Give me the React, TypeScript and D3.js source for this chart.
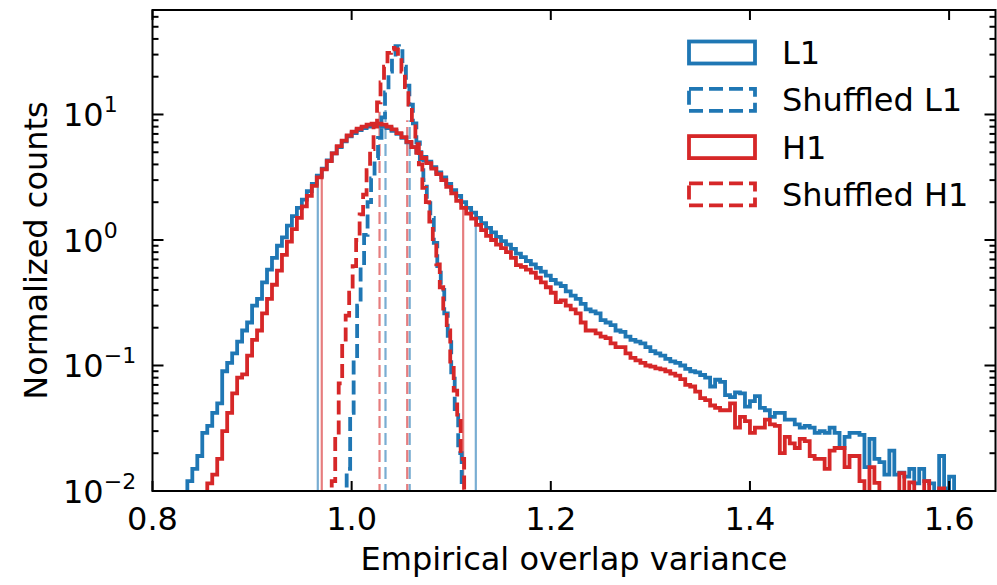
import React from "react";
import * as d3 from "d3";

const W = 997;
const H = 585;
const PL = 152.5;
const PR = 995.5;
const PT = 10;
const PB = 491;

const xDomain = [0.8, 1.6466];
const yDomain = [0.01, 68];

const xTicks = [0.8, 1.0, 1.2, 1.4, 1.6];
const xTickLabels = ["0.8", "1.0", "1.2", "1.4", "1.6"];
const yTickValues = [0.01, 0.1, 1, 10];
const yTickExponents = ["\u22122", "\u22121", "0", "1"];

const xLabel = "Empirical overlap variance";
const yLabel = "Normalized counts";

const seriesNames = ["L1", "Shuffled L1", "H1", "Shuffled H1"];
const seriesColors = ["#1f77b4", "#1f77b4", "#d62728", "#d62728"];
const seriesDashed = [false, true, false, true];

// L1 histogram: bins start 0.835, width 0.005
const l1Start = 0.835;
const l1Width = 0.005;
const l1Counts = [
  0.012, 0.015, 0.019, 0.029, 0.033, 0.042, 0.050, 0.090, 0.105, 0.125,
  0.155, 0.19, 0.22, 0.30, 0.34, 0.46, 0.58, 0.72, 0.90, 1.05,
  1.30, 1.55, 1.80, 2.10, 2.45, 2.80, 3.25, 3.70, 4.30, 4.90,
  5.50, 6.10, 6.70, 7.10, 7.50, 7.80, 8.00, 8.10, 8.10, 8.00,
  7.80, 7.40, 7.00, 6.50, 6.00, 5.50, 5.00, 4.60, 4.20, 3.80,
  3.45, 3.15, 2.80, 2.50, 2.25, 2.00, 1.80, 1.65, 1.50, 1.36,
  1.25, 1.15, 1.06, 0.98, 0.92, 0.85, 0.78, 0.73, 0.68, 0.64,
  0.60, 0.56, 0.52, 0.48, 0.45, 0.43, 0.39, 0.36, 0.34, 0.31,
  0.28, 0.27, 0.26, 0.23, 0.22, 0.21, 0.19, 0.185, 0.17, 0.16,
  0.155, 0.15, 0.14, 0.13, 0.125, 0.12, 0.113, 0.108, 0.105, 0.100,
  0.094, 0.090, 0.088, 0.084, 0.080, 0.068, 0.077, 0.074, 0.058, 0.056,
  0.061, 0.060, 0.047, 0.052, 0.057, 0.046, 0.044, 0.039, 0.042, 0.042,
  0.037, 0.037, 0.034, 0.032, 0.033, 0.032, 0.029, 0.030, 0.029, 0.032,
  0.029, 0.022, 0.027, 0.029, 0.029, 0.028, 0.0155, 0.026, 0.018, 0.017,
  0.0135, 0.021, 0.0135, 0.014, 0.013, 0.015, 0.0115, 0.015, 0.012, 0.0115,
  0.0095, 0.019, 0.0105, 0.013,
];

// Shuffled L1: bins start 0.995, width 0.0035
const sL1Start = 0.995;
const sL1Width = 0.0035;
const sL1Counts = [
  0.015, 0.042, 0.11, 0.30, 0.62, 1.1, 2.0, 3.1, 4.5, 6.5, 9.5, 15.0, 22.0,
  30.0, 35.0, 32.0, 24.0, 17.0, 12.0, 8.5, 6.0, 4.4, 3.0, 2.1, 1.5, 0.95,
  0.62, 0.40, 0.26, 0.16, 0.085, 0.045, 0.020,
];

// H1 histogram: bins start 0.855, width 0.005
const h1Start = 0.855;
const h1Width = 0.005;
const h1Counts = [
  0.0115, 0.0135, 0.018, 0.030, 0.042, 0.060, 0.080, 0.085, 0.120, 0.160,
  0.190, 0.26, 0.34, 0.44, 0.57, 0.76, 0.97, 1.22, 1.50, 1.85,
  2.25, 2.70, 3.15, 3.65, 4.25, 4.90, 5.60, 6.20, 6.80, 7.30,
  7.70, 8.00, 8.30, 8.45, 8.45, 8.30, 8.00, 7.60, 7.10, 6.60,
  6.05, 5.50, 4.95, 4.50, 4.10, 3.70, 3.35, 3.00, 2.65, 2.35,
  2.05, 1.80, 1.62, 1.48, 1.32, 1.20, 1.08, 1.00, 0.92, 0.86,
  0.80, 0.72, 0.63, 0.61, 0.58, 0.55, 0.50, 0.46, 0.42, 0.38,
  0.32, 0.33, 0.30, 0.28, 0.26, 0.22, 0.19, 0.19, 0.18, 0.17,
  0.165, 0.15, 0.14, 0.14, 0.125, 0.115, 0.11, 0.105, 0.10, 0.098,
  0.095, 0.093, 0.090, 0.086, 0.083, 0.078, 0.070, 0.068, 0.062, 0.055,
  0.053, 0.048, 0.046, 0.044, 0.044, 0.050, 0.032, 0.039, 0.036, 0.029,
  0.032, 0.032, 0.037, 0.034, 0.033, 0.020, 0.027, 0.024, 0.022, 0.026,
  0.025, 0.019, 0.018, 0.018, 0.015, 0.021, 0.022, 0.022, 0.0155, 0.019,
  0.019, 0.012, 0.009, 0.0155, 0.0116, 0.008, 0.008, 0.009, 0.0095, 0.0139,
  0.008, 0.0117, 0.008, 0.009, 0.012, 0.008, 0.009, 0.0105, 0.008,
];

// Shuffled H1: bins start 0.980, width 0.0035
const sH1Start = 0.98;
const sH1Width = 0.0035;
const sH1Counts = [
  0.012, 0.027, 0.072, 0.15, 0.25, 0.38, 0.62, 1.0, 1.6, 2.3, 3.6, 5.3, 8.0,
  12.5, 18.0, 24.0, 31.0, 34.0, 33.0, 29.0, 22.0, 16.5, 12.0, 8.5, 5.8, 4.0,
  2.6, 2.0, 1.4, 0.95, 0.64, 0.42, 0.27, 0.19, 0.10, 0.063, 0.038, 0.018,
];

// Percentile marker lines (x position, top value)
const l1MarkX = [0.966, 1.1247];
const l1MarkTop = [3.0, 1.53];
const sL1MarkX = [1.034, 1.0583];
const sL1MarkTop = [11, 9];
const h1MarkX = [0.970, 1.112];
const h1MarkTop = [3.4, 1.84];
const sH1MarkX = [1.028, 1.0558];
const sH1MarkTop = [10.5, 9];

const FONT = "DejaVu Sans, Verdana, sans-serif";

function stepPoints(start: number, width: number, counts: number[]) {
  const pts: [number, number][] = [[start, 1e-5]];
  counts.forEach((c, i) => {
    pts.push([start + i * width, c]);
    pts.push([start + (i + 1) * width, c]);
  });
  pts.push([start + counts.length * width, 1e-5]);
  return pts;
}

export default function App() {
  const x = d3.scaleLinear().domain(xDomain).range([PL, PR]);
  const y = d3.scaleLog().domain(yDomain).range([PB, PT]);
  const line = d3
    .line<[number, number]>()
    .x((d) => x(d[0]))
    .y((d) => y(d[1]));

  const hists = [
    { pts: stepPoints(l1Start, l1Width, l1Counts), i: 0 },
    { pts: stepPoints(sL1Start, sL1Width, sL1Counts), i: 1 },
    { pts: stepPoints(h1Start, h1Width, h1Counts), i: 2 },
    { pts: stepPoints(sH1Start, sH1Width, sH1Counts), i: 3 },
  ];
  const marks = [
    { xs: l1MarkX, tops: l1MarkTop, i: 0 },
    { xs: sL1MarkX, tops: sL1MarkTop, i: 1 },
    { xs: h1MarkX, tops: h1MarkTop, i: 2 },
    { xs: sH1MarkX, tops: sH1MarkTop, i: 3 },
  ];

  const minorY: number[] = [];
  for (let e = -2; e <= 1; e++) {
    for (let m = 2; m <= 9; m++) {
      const v = m * Math.pow(10, e);
      if (v > yDomain[0] && v < yDomain[1]) minorY.push(v);
    }
  }

  const dash = "14,6";
  const lw = 3.8;

  return (
    <div style={{ position: "fixed", left: 0, top: 0 }}>
      <svg width={W} height={H} style={{ display: "block", background: "#fff" }}>
        <defs>
          <clipPath id="plotclip">
            <rect x={PL} y={PT} width={PR - PL} height={PB - PT} />
          </clipPath>
        </defs>
        <g clipPath="url(#plotclip)">
          {marks.map((m) =>
            m.xs.map((xv, k) => (
              <line
                key={`m${m.i}-${k}`}
                x1={x(xv)}
                x2={x(xv)}
                y1={PB + 5}
                y2={y(m.tops[k])}
                stroke={seriesColors[m.i]}
                strokeOpacity={0.6}
                strokeWidth={2.2}
                strokeDasharray={seriesDashed[m.i] ? "12,5" : undefined}
              />
            ))
          )}
          {hists.map((h) => (
            <path
              key={`h${h.i}`}
              d={line(h.pts) || ""}
              fill="none"
              stroke={seriesColors[h.i]}
              strokeWidth={lw}
              strokeLinejoin="miter"
              strokeDasharray={seriesDashed[h.i] ? dash : undefined}
            />
          ))}
        </g>

        {/* ticks */}
        <g stroke="#000" strokeWidth={2}>
          {xTicks.map((t) => (
            <g key={`xt${t}`}>
              <line x1={x(t)} x2={x(t)} y1={PB} y2={PB - 10} />
              <line x1={x(t)} x2={x(t)} y1={PT} y2={PT + 10} />
            </g>
          ))}
          {yTickValues.map((t) => (
            <g key={`yt${t}`}>
              <line x1={PL} x2={PL + 11} y1={y(t)} y2={y(t)} />
              <line x1={PR} x2={PR - 11} y1={y(t)} y2={y(t)} />
            </g>
          ))}
          {minorY.map((t) => (
            <g key={`ym${t}`}>
              <line x1={PL} x2={PL + 6} y1={y(t)} y2={y(t)} />
              <line x1={PR} x2={PR - 6} y1={y(t)} y2={y(t)} />
            </g>
          ))}
        </g>
        <rect
          x={PL}
          y={PT}
          width={PR - PL}
          height={PB - PT}
          fill="none"
          stroke="#000"
          strokeWidth={2}
        />

        {/* tick labels */}
        <g fontFamily={FONT} fontSize={32} fill="#000">
          {xTicks.map((t, i) => (
            <text key={`xl${t}`} x={x(t)} y={PB + 39} textAnchor="middle">
              {xTickLabels[i]}
            </text>
          ))}
          {yTickValues.map((t, i) => (
            <text key={`yl${t}`} x={63} y={y(t) + 12}>
              10
              <tspan dy={-14} fontSize={22}>
                {yTickExponents[i]}
              </tspan>
            </text>
          ))}
          <text x={(PL + PR) / 2} y={570} textAnchor="middle">
            {xLabel}
          </text>
          <text
            transform={`translate(47,${(PT + PB) / 2}) rotate(-90)`}
            textAnchor="middle"
          >
            {yLabel}
          </text>
        </g>

        {/* legend */}
        <g fontFamily={FONT} fontSize={32}>
          {seriesNames.map((name, i) => {
            const cy = 52.5 + i * 47.3;
            return (
              <g key={`lg${i}`}>
                <rect
                  x={689}
                  y={cy - 11}
                  width={66}
                  height={22}
                  fill="none"
                  stroke={seriesColors[i]}
                  strokeWidth={lw}
                  strokeDasharray={seriesDashed[i] ? "14,6" : undefined}
                />
                <text x={782} y={cy + 11.5} fill="#000">
                  {name}
                </text>
              </g>
            );
          })}
        </g>
      </svg>
    </div>
  );
}
